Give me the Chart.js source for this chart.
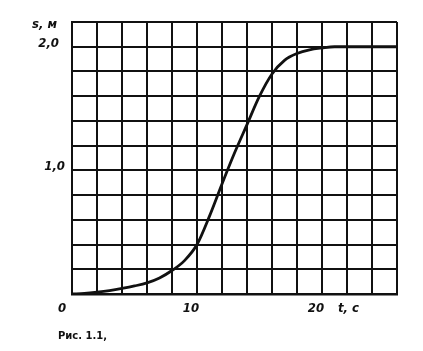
<!DOCTYPE html>
<html>
<head>
<meta charset="utf-8">
<script src="https://cdn.jsdelivr.net/npm/chart.js@4.4.0/dist/chart.umd.min.js"></script>
<style>
  html, body { margin: 0; padding: 0; background: #fff; }
  #wrap { width: 423px; height: 351px; }
</style>
</head>
<body>
<div id="wrap"><canvas id="motionChart" width="423" height="351"></canvas></div>
<script>
// time, s
const times = [0, 1, 2, 3, 4, 5, 6, 7, 8, 9, 10, 11, 12, 13, 14, 15, 16, 17, 18, 19, 20, 21, 22, 23, 24, 25, 26];
// path, m
const distances = [0, 0.005, 0.015, 0.028, 0.045, 0.065, 0.09, 0.13, 0.19, 0.27, 0.4, 0.63, 0.89, 1.14, 1.37, 1.6, 1.78, 1.89, 1.945, 1.975, 1.99, 2.0, 2.0, 2.0, 2.0, 2.0, 2.0];

const xTickLabels = [0, 10, 20];
const yTickLabels = [1.0, 2.0];
const xAxisName = 't, c';
const yAxisName = 's, м';
const captionText = 'Рис. 1.1,';

const ink = '#111';
const labelFont = 'italic bold 13px "DejaVu Sans Condensed", "DejaVu Sans", sans-serif';

// labels, axis names and caption drawn next to the scales
const textPlugin = {
  id: 'bookText',
  afterDraw(chart) {
    const { ctx, scales: { x, y }, chartArea } = chart;
    ctx.save();
    ctx.fillStyle = ink;
    ctx.font = labelFont;
    ctx.textBaseline = 'alphabetic';
    ctx.textAlign = 'center';
    xTickLabels.forEach(v => {
      const off = v === 0 ? -10 : -6;
      ctx.fillText(String(v), x.getPixelForValue(v) + off, chartArea.bottom + 18);
    });
    ctx.textAlign = 'right';
    yTickLabels.forEach(v => {
      const off = v === 1 ? -7 : -13;
      ctx.fillText(v.toFixed(1).replace('.', ','), chartArea.left + off, y.getPixelForValue(v) + 0);
    });
    ctx.textAlign = 'left';
    ctx.fillText(yAxisName, chartArea.left - 40, chartArea.top + 6);
    ctx.fillText(xAxisName, chartArea.right - 59, chartArea.bottom + 18);
    ctx.font = 'bold 10px "DejaVu Sans", sans-serif';
    ctx.fillText(captionText, chartArea.left - 14, chartArea.bottom + 45);
    ctx.restore();
  }
};

new Chart(document.getElementById('motionChart').getContext('2d'), {
  type: 'line',
  data: {
    labels: times,
    datasets: [{
      data: times.map((t, i) => ({ x: t, y: distances[i] })),
      borderColor: ink,
      borderWidth: 2.8,
      pointRadius: 0,
      cubicInterpolationMode: 'monotone',
      fill: false
    }]
  },
  options: {
    responsive: false,
    animation: false,
    layout: { padding: { left: 72, right: 26, top: 22, bottom: 57 } },
    plugins: { legend: { display: false }, tooltip: { enabled: false } },
    scales: {
      x: {
        type: 'linear',
        min: 0,
        max: 26,
        ticks: { display: false, stepSize: 2 },
        grid: { color: ink, lineWidth: 2, drawTicks: false },
        border: { color: ink, width: 2.5 }
      },
      y: {
        type: 'linear',
        min: 0,
        max: 2.2,
        ticks: { display: false, stepSize: 0.2 },
        grid: { color: ink, lineWidth: 2, drawTicks: false },
        border: { color: ink, width: 2 }
      }
    }
  },
  plugins: [textPlugin]
});
</script>
</body>
</html>
